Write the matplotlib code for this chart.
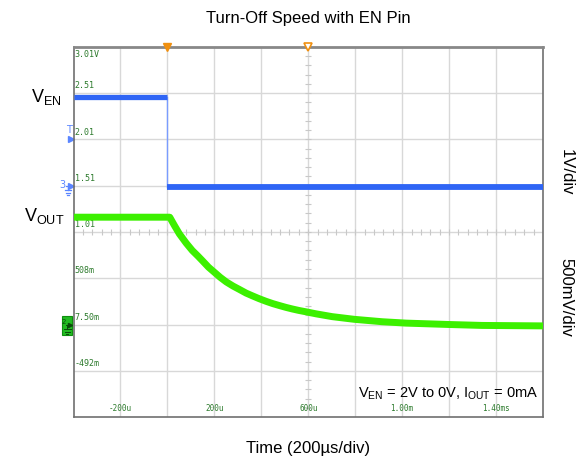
import matplotlib
matplotlib.use('Agg')
import matplotlib.pyplot as plt
from matplotlib.patches import Rectangle
import numpy as np

plt.rcParams['font.family'] = ['Liberation Sans', 'DejaVu Sans']
plt.rcParams['mathtext.default'] = 'regular'

# scope settings
t_div = 200.0          # us per division
en_scale = 1.0         # V/div, EN channel
out_scale = 0.5        # V/div, VOUT channel
en_ground = 5          # division of EN 0V marker
out_ground = 2         # division of VOUT 0V marker

# EN pin (blue)
en_t = [-400, 0, 0, 1600]
en_v = [1.92, 1.92, -0.03, -0.03]

# VOUT (green)
vout_t = [-400, 10, 30, 51, 80, 106, 130, 149, 175, 200, 225, 251, 280, 306,
          335, 362, 390, 421, 450, 477, 505, 532, 560, 591, 634, 702, 796,
          915, 1017, 1200, 1340, 1600]
vout_v = [1.16, 1.16, 1.07, 0.98, 0.88, 0.80, 0.74, 0.69, 0.62, 0.565, 0.51,
          0.46, 0.415, 0.38, 0.34, 0.31, 0.28, 0.25, 0.225, 0.205, 0.185,
          0.168, 0.152, 0.137, 0.115, 0.085, 0.056, 0.03, 0.015, 0.0, -0.01,
          -0.015]

# graticule labels
y_label_divs = [1, 2, 3, 4, 5, 6, 7, 8]
y_labels = ['-492m', '7.50m', '508m', '1.01', '1.51', '2.01', '2.51', '3.01V']
x_label_t = [-200, 200, 600, 1000, 1400]
x_labels = ['-200u', '200u', '600u', '1.00m', '1.40ms']

blue = '#2f65f5'
light_blue = '#5a85ff'
green = '#3cf000'
lbl_green = '#2c7a2c'
orange = '#f09010'

fig = plt.figure(figsize=(5.85, 4.65), dpi=100)
ax = fig.add_axes([73.5 / 585, 48 / 465, (543 - 73.5) / 585, (417 - 47) / 465])
ax.set_xlim(-400, 1600)
ax.set_ylim(0, 8)

# grid
for k in range(1, 10):
    ax.axvline(-400 + k * t_div, color='#d8d8d8', lw=1.0, zorder=1)
for k in range(1, 8):
    ax.axhline(k, color='#d8d8d8', lw=1.0, zorder=1)

# minor ticks on the centre lines
ax.plot(np.full(39, 600.0), np.arange(1, 40) * 0.2, ls='none', marker='_',
        ms=4, color='#c8c8c8', mew=0.8, zorder=1)
ax.plot(-400 + np.arange(1, 50) * t_div / 5, np.full(49, 4.0), ls='none',
        marker='|', ms=4, color='#c8c8c8', mew=0.8, zorder=1)

# traces
en_d = [en_ground + v / en_scale for v in en_v]
out_d = [out_ground + v / out_scale for v in vout_v]
ax.plot(en_t[1:3], en_d[1:3], color='#7a9cff', lw=1.0, zorder=3)
ax.plot(en_t[:2], en_d[:2], color=blue, lw=3.8, solid_capstyle='butt', zorder=3)
ax.plot(en_t[2:], en_d[2:], color=blue, lw=4.2, solid_capstyle='butt', zorder=3)
ax.plot(vout_t, out_d, color=green, lw=5.0, solid_capstyle='butt',
        solid_joinstyle='round', zorder=4)

# graticule text
for d, s in zip(y_label_divs, y_labels):
    if d == 8:
        ax.text(-395, d - 0.06, s, color=lbl_green, fontsize=6,
                family='DejaVu Sans Mono', va='top', ha='left')
    else:
        ax.text(-395, d + 0.06, s, color=lbl_green, fontsize=6,
                family='DejaVu Sans Mono', va='bottom', ha='left')
for t, s in zip(x_label_t, x_labels):
    ax.text(t, 0.08, s, color=lbl_green, fontsize=5.5,
            family='DejaVu Sans Mono', va='bottom', ha='center')

# trigger markers
ax.plot([0], [8], marker='v', ms=6, color=orange, clip_on=False, zorder=6)
ax.plot([600], [8], marker='v', ms=6, mfc='white', mec=orange, mew=1.2,
        clip_on=False, zorder=6)


def ground(x, y, color, lw=0.9):
    # small ground symbol, x in us, y in divisions (top of stem)
    ax.plot([x, x], [y, y - 0.1], color=color, lw=lw, clip_on=False, zorder=7)
    for i, w in enumerate([14, 9, 4]):
        yy = y - 0.1 - i * 0.055
        ax.plot([x - w, x + w], [yy, yy], color=color, lw=lw, clip_on=False,
                zorder=7)


# channel markers on the left edge
ax.plot([-409], [6], marker='>', ms=4, color=light_blue, clip_on=False)
ax.text(-418, 6.1, 'T', color=light_blue, fontsize=7, ha='center',
        va='bottom', family='DejaVu Sans')
ax.plot([-409], [en_ground], marker='>', ms=4, color=light_blue, clip_on=False)
ax.plot([-430, -412], [en_ground, en_ground], color=light_blue, lw=0.9,
        clip_on=False)
ax.text(-436, en_ground + 0.02, '3', color=light_blue, fontsize=7, ha='right',
        va='center', family='DejaVu Sans')
ground(-424, en_ground, light_blue)

ax.add_patch(Rectangle((-449, 1.77), 44, 0.41, fc='#22bb22', ec='#0f8f0f',
                       lw=0.8, clip_on=False, zorder=6))
ax.text(-440, 2.05, '2', color='#0a4a0a', fontsize=5, ha='center',
        va='center', family='DejaVu Sans', zorder=7)
ax.plot([-415], [2.0], marker='>', ms=3, color='#0a4a0a', clip_on=False,
        zorder=7)
ax.plot([-432, -418], [2.0, 2.0], color='#0a4a0a', lw=0.7, clip_on=False,
        zorder=7)
ground(-426, 2.0, '#0a4a0a', lw=0.7)

# frame
for side in ['left', 'right', 'bottom']:
    ax.spines[side].set_color('#707070')
    ax.spines[side].set_linewidth(1.2)
ax.spines['top'].set_color('#888888')
ax.spines['top'].set_linewidth(2.0)
ax.set_xticks([])
ax.set_yticks([])

# annotations around the screen
fig.text(308 / 585, 1 - 19 / 465, 'Turn-Off Speed with EN Pin', fontsize=12,
         ha='center', va='center')
fig.text(308 / 585, 1 - 448 / 465, 'Time (200\u00b5s/div)', fontsize=12,
         ha='center', va='center')
fig.text(46 / 585, 1 - 97 / 465, 'V$_{EN}$', fontsize=13, ha='center', va='center')
fig.text(44 / 585, 1 - 216 / 465, 'V$_{OUT}$', fontsize=13, ha='center', va='center')
fig.text(566 / 585, 1 - 172 / 465, '1V/div', fontsize=12, rotation=270,
         ha='center', va='center')
fig.text(566 / 585, 1 - 297 / 465, '500mV/div', fontsize=12, rotation=270,
         ha='center', va='center')
ax.text(1580, 0.5, 'V$_{EN}$ = 2V to 0V, I$_{OUT}$ = 0mA', fontsize=10.5,
        ha='right', va='center')

fig.savefig('out.png', dpi=100)
